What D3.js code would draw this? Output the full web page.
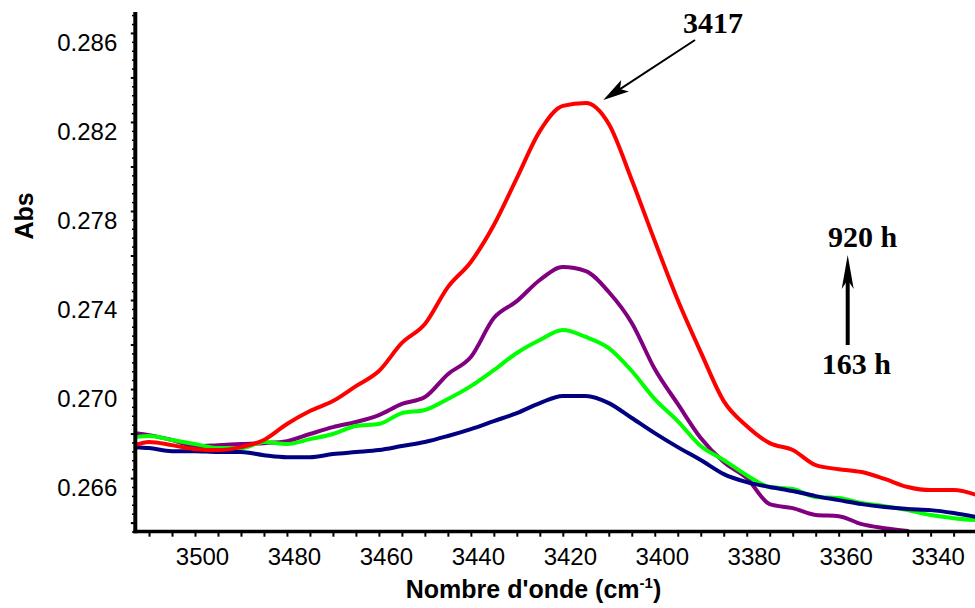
<!DOCTYPE html>
<html><head><meta charset="utf-8">
<script src="https://cdn.jsdelivr.net/npm/d3@7"></script>
<style>html,body{margin:0;padding:0;background:#fff}svg{display:block}</style>
</head><body>
<svg id="chart" width="975" height="608"></svg>
<script>
// ---- data ----
const wavenumbers = [3513,3510,3505,3500,3495,3490,3485,3480,3475,3470,3465,3460,3455,3450,3445,3440,3435,3430,3425,3420,3415,3410,3405,3400,3395,3390,3385,3380,3375,3370,3365,3360,3355,3350,3345,3340,3335,3330];
const absRed = [0.26748,0.26762,0.26748,0.26730,0.26726,0.26739,0.26771,0.26843,0.26901,0.26946,0.27013,0.27081,0.27207,0.27292,0.27458,0.27571,0.27737,0.27948,0.28159,0.28272,0.28285,0.28191,0.27939,0.27665,0.27400,0.27166,0.26946,0.26834,0.26757,0.26726,0.26658,0.26640,0.26627,0.26596,0.26560,0.26546,0.26546,0.26524];
const absPurple = [0.26802,0.26793,0.26771,0.26744,0.26748,0.26753,0.26757,0.26766,0.26798,0.26829,0.26852,0.26883,0.26933,0.26964,0.27067,0.27144,0.27319,0.27395,0.27490,0.27548,0.27530,0.27436,0.27297,0.27090,0.26933,0.26780,0.26672,0.26600,0.26483,0.26465,0.26434,0.26429,0.26393,0.26375,0.26362,null,null,null];
const absGreen = [0.26784,0.26789,0.26771,0.26753,0.26735,0.26735,0.26762,0.26753,0.26775,0.26798,0.26834,0.26843,0.26892,0.26906,0.26955,0.27013,0.27085,0.27162,0.27220,0.27265,0.27234,0.27184,0.27081,0.26955,0.26856,0.26744,0.26681,0.26613,0.26560,0.26551,0.26515,0.26510,0.26488,0.26474,0.26456,0.26434,0.26420,0.26411];
const absNavy = [0.26739,0.26735,0.26721,0.26721,0.26717,0.26717,0.26703,0.26694,0.26694,0.26708,0.26717,0.26726,0.26744,0.26762,0.26789,0.26820,0.26856,0.26892,0.26937,0.26969,0.26969,0.26937,0.26870,0.26802,0.26739,0.26681,0.26618,0.26582,0.26560,0.26542,0.26519,0.26501,0.26483,0.26470,0.26461,0.26456,0.26443,0.26425];
const seriesColors = ["#800080","#00ff00","#000080","#ff0000"];
const xTickLabels = [3500,3480,3460,3440,3420,3400,3380,3360,3340];
const yTickLabels = [0.266,0.270,0.274,0.278,0.282,0.286];
const xTitle = "Nombre d'onde (cm";
const yTitle = "Abs";
const peakLabel = "3417";
const timeTop = "920 h", timeBottom = "163 h";

// ---- scales ----
const svg = d3.select("#chart");
const x = d3.scaleLinear().domain([3513.05, 3330.35]).range([135, 975]);
const y = d3.scaleLinear().domain([0.26360, 0.28694]).range([531.5, 12]);

// ---- lines ----
const series = [absPurple, absGreen, absNavy, absRed];
const line = d3.line()
  .defined(d => d[1] != null)
  .x(d => x(d[0])).y(d => y(d[1]))
  .curve(d3.curveMonotoneX);
svg.append("defs").append("clipPath").attr("id","clip")
  .append("rect").attr("x",135).attr("y",0).attr("width",840).attr("height",531.5);
const gl = svg.append("g").attr("clip-path","url(#clip)");
series.forEach((s,i) => {
  gl.append("path")
    .datum(wavenumbers.map((w,j) => [w, s[j]]))
    .attr("d", line)
    .attr("fill","none")
    .attr("stroke", seriesColors[i])
    .attr("stroke-width", 4)
    .attr("stroke-linejoin","round")
    .attr("stroke-linecap","round");
});

// ---- y axis ----
const yMajor = d3.range(132, 144).map(i => +(i*0.002).toFixed(3));
const yMinor = d3.range(659, 718).filter(i => i % 5 !== 0).map(i => i*0.0004);
const ax = svg.append("g").attr("transform","translate(135.3,0)");
ax.append("g").call(d3.axisLeft(y).tickValues(yMinor).tickSize(3.3).tickFormat(""))
  .call(g => g.select(".domain").remove())
  .call(g => g.selectAll("line").attr("stroke","#000").attr("stroke-width",1.5));
ax.append("g").call(d3.axisLeft(y).tickValues(yMajor).tickSize(4.5)
    .tickFormat(d => yTickLabels.some(v => Math.abs(v-d)<1e-9) ? d3.format(".3f")(d) : ""))
  .call(g => g.select(".domain").remove())
  .call(g => g.selectAll("line").attr("stroke","#000").attr("stroke-width",2))
  .call(g => g.selectAll("text").attr("x",-18).attr("dy","0").attr("y",17.5)
      .attr("text-anchor","end").attr("fill","#000")
      .style("font-family","'Liberation Sans', Arial, sans-serif").style("font-size","24px"));
ax.append("line").attr("x1",0).attr("x2",0).attr("y1",y.range()[1]).attr("y2",y.range()[0]+1.8)
  .attr("stroke","#000").attr("stroke-width",4);

// ---- x axis ----
const xTicks = d3.range(3335, 3515, 5);
const bx = svg.append("g").attr("transform","translate(0,531.5)");
bx.append("g").call(d3.axisBottom(x).tickValues(xTicks).tickSize(5.2)
    .tickFormat(d => xTickLabels.includes(d) ? String(d) : ""))
  .call(g => g.select(".domain").remove())
  .call(g => g.selectAll("line").attr("stroke","#000").attr("stroke-width",2))
  .call(g => g.selectAll("text").attr("dy","0").attr("y",33.5).attr("dx",7)
      .attr("fill","#000")
      .style("font-family","'Liberation Sans', Arial, sans-serif").style("font-size","24px"));
bx.append("line").attr("x1",133.3).attr("x2",975).attr("y1",0).attr("y2",0)
  .attr("stroke","#000").attr("stroke-width",3.6);

// ---- titles ----
const xt = svg.append("text").attr("x",533.5).attr("y",598).attr("text-anchor","middle")
  .style("font-family","'Liberation Sans', Arial, sans-serif").style("font-size","25px").style("font-weight","bold");
xt.append("tspan").text(xTitle);
xt.append("tspan").text("-1").style("font-size","15px").attr("dy",-10);
xt.append("tspan").text(")").attr("dy",10);
svg.append("text").attr("transform","translate(33,216) rotate(-90)").attr("text-anchor","middle")
  .style("font-family","'Liberation Sans', Arial, sans-serif").style("font-size","25px").style("font-weight","bold")
  .text(yTitle);

// ---- annotations ----
const serif = "'Liberation Serif', 'Times New Roman', serif";
svg.append("text").attr("x",683).attr("y",33).text(peakLabel)
  .style("font-family",serif).style("font-size","30px").style("font-weight","bold");
svg.append("text").attr("x",828).attr("y",247).text(timeTop)
  .style("font-family",serif).style("font-size","30px").style("font-weight","bold");
svg.append("text").attr("x",821.7).attr("y",374).text(timeBottom)
  .style("font-family",serif).style("font-size","30px").style("font-weight","bold");

function arrow(x0,y0,x1,y1,sw,hl,hw,notch){
  const dx=x1-x0, dy=y1-y0, L=Math.hypot(dx,dy), ux=dx/L, uy=dy/L, px=-uy, py=ux;
  const bx_=x1-ux*hl, by_=y1-uy*hl, nx=x1-ux*notch, ny=y1-uy*notch;
  svg.append("line").attr("x1",x0).attr("y1",y0).attr("x2",nx).attr("y2",ny)
    .attr("stroke","#000").attr("stroke-width",sw);
  svg.append("path").attr("d",`M${x1},${y1}L${bx_+px*hw/2},${by_+py*hw/2}L${nx},${ny}L${bx_-px*hw/2},${by_-py*hw/2}Z`)
    .attr("fill","#000");
}
arrow(695,40,603.3,100,2,26,14,20);
arrow(847.7,345,847.7,255,4,34,12,25);
</script>
</body></html>
